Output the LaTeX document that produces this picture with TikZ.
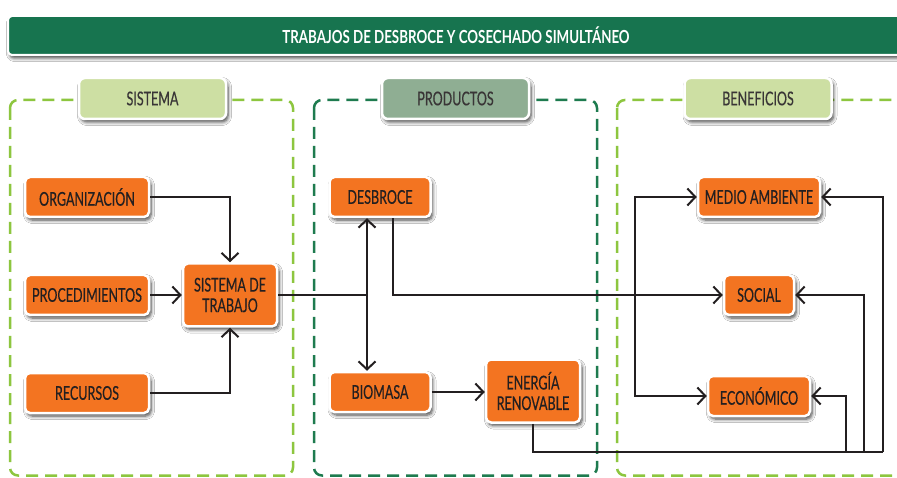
\documentclass[tikz,border=0pt]{standalone}
\usepackage{fontspec}
\setmainfont{Lato}[FakeStretch=0.66,FakeBold=0.4]
\newfontfamily\titlefont{Lato}[FakeStretch=0.74]
\usetikzlibrary{arrows.meta,shadows.blur}
\definecolor{orng}{HTML}{F37421}
\definecolor{dgreen}{HTML}{17744F}
\definecolor{lgreen}{HTML}{8DC63F}
\definecolor{pgreen}{HTML}{1E7B4F}
\definecolor{labA}{HTML}{CDDFA3}
\definecolor{labB}{HTML}{8FAE93}
\definecolor{ink}{HTML}{231F20}
\begin{document}
\begin{tikzpicture}[x=1pt,y=-1pt,
  shad/.style={blur shadow={shadow xshift=2pt, shadow yshift=-3pt, shadow blur radius=3.5pt, shadow blur steps=6, shadow opacity=75}},
  box/.style={shad, rounded corners=5pt, fill=orng, draw=white, line width=2.5pt, inner sep=0pt, text=ink, font=\fontsize{19}{20.5}\selectfont, align=center},
  lab/.style={shad, rounded corners=6pt, draw=white, line width=2.5pt, inner sep=0pt, minimum width=147pt, minimum height=41pt, text=ink!90, font=\fontsize{19}{20.5}\selectfont},
  panel/.style={line width=2.5pt, rounded corners=8pt, dash pattern=on 12pt off 7pt},
  arr/.style={line width=2pt, draw=ink, -{Straight Barb[length=8pt,width=17pt]}},
  arrb/.style={line width=2pt, draw=ink, {Straight Barb[length=8pt,width=17pt]}-{Straight Barb[length=8pt,width=17pt]}},
  ln/.style={line width=2pt, draw=ink},
]
\useasboundingbox (0,0) rectangle (897,478);
\fill[white] (0,0) rectangle (897,478);

% panels
\draw[panel, draw=lgreen] (10,100) rectangle (293,475.5);
\draw[panel, draw=pgreen] (314,100) rectangle (597,475.5);
\draw[panel, draw=lgreen] (617,100) rectangle (920,475.5);

% labels
\node[lab, fill=labA] (lsis) at (152.5,98.5) {SISTEMA};
\node[lab, fill=labB] (lpro) at (455.5,98.5) {PRODUCTOS};
\node[lab, fill=labA] (lben) at (758,98.5) {BENEFICIOS};

% title
\node[shad, fill=dgreen, draw=white, line width=2pt, rounded corners=4pt, minimum width=896pt, minimum height=39pt, inner sep=0pt, text=white, font=\titlefont\bfseries\fontsize{18}{20}\selectfont] (title) at (456,35.5) {TRABAJOS DE DESBROCE Y COSECHADO SIMULTÁNEO};

% nodes
\node[box, minimum width=124pt, minimum height=40pt] (org) at (87,197) {ORGANIZACIÓN};
\node[box, minimum width=124pt, minimum height=40pt] (proc) at (87,295) {PROCEDIMIENTOS};
\node[box, minimum width=124pt, minimum height=40pt] (rec) at (87,393) {RECURSOS};
\node[box, minimum width=94pt, minimum height=63pt] (sis) at (230,295) {SISTEMA DE\\TRABAJO};
\node[box, minimum width=101pt, minimum height=40pt] (des) at (380,197) {DESBROCE};
\node[box, minimum width=101pt, minimum height=40pt] (bio) at (380,392) {BIOMASA};
\node[box, minimum width=94pt, minimum height=63pt] (ene) at (533,391) {ENERGÍA\\RENOVABLE};
\node[box, minimum width=122pt, minimum height=40pt] (ma) at (759,197) {MEDIO AMBIENTE};
\node[box, minimum width=70pt, minimum height=40pt] (soc) at (759,295) {SOCIAL};
\node[box, minimum width=102pt, minimum height=40pt] (eco) at (759,396) {ECONÓMICO};

% junction coordinates
\coordinate (j1) at (367,295);
\coordinate (d1) at (393,295);
\coordinate (v1) at (635,295);
\coordinate (b0) at (533,452);
\coordinate (b1) at (883,452);
\coordinate (b2) at (864,452);
\coordinate (b3) at (846,452);

% connectors
\draw[arr] (org.east) -| (sis.north);
\draw[arr] (proc.east) -- (sis.west);
\draw[arr] (rec.east) -| (sis.south);
\draw[ln] (sis.east) -- (j1);
\draw[arrb] (des.south -| j1) -- (bio.north -| j1);
\draw[arr] (des.south -| d1) -- (d1) -- (soc.west);
\draw[arr] (v1) |- (ma.west);
\draw[arr] (v1) |- (eco.west);
\draw[arr] (bio.east) -- (bio.east -| ene.west);
\draw[ln] (ene.south) -- (b0) -- (b1);
\draw[arr] (b1) |- (ma.east);
\draw[arr] (b2) |- (soc.east);
\draw[arr] (b3) |- (eco.east);
\end{tikzpicture}
\end{document}
